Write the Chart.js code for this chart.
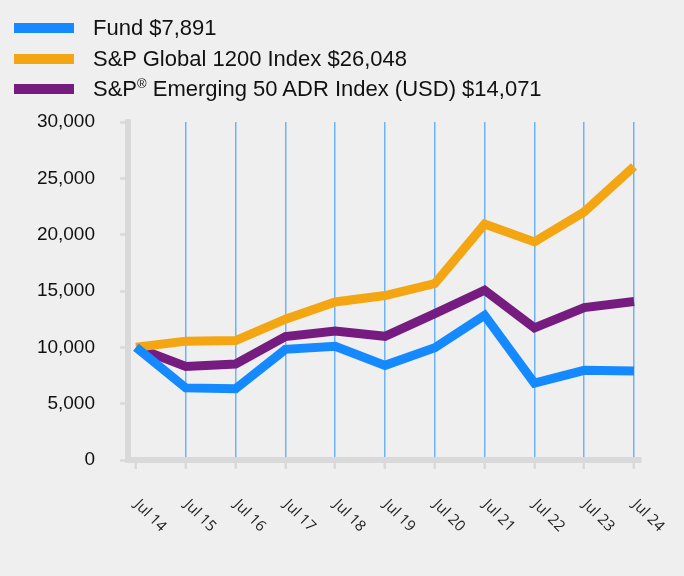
<!DOCTYPE html>
<html>
<head>
<meta charset="utf-8">
<script src="https://cdn.jsdelivr.net/npm/chart.js@4"></script>
<style>
  html, body { margin: 0; padding: 0; background: #efefef; }
  #wrap { position: relative; width: 684px; height: 576px; overflow: hidden; }
  #legend { position: absolute; left: 0; top: 0; font-family: "Liberation Sans", Arial, sans-serif; font-size: 22px; color: #111; }
  .row { position: absolute; left: 0; height: 26px; width: 684px; white-space: nowrap; }
  .swatch { position: absolute; left: 14px; top: 8px; width: 60px; height: 10px; }
  .label { position: absolute; left: 93px; top: 0; line-height: 26px; }
  .label sup { font-size: 13px; vertical-align: 8px; line-height: 0; }
  canvas { position: absolute; left: 0; top: 0; }
</style>
</head>
<body>
<div id="wrap">
  <canvas id="chart" width="684" height="576"></canvas>
  <div id="legend"></div>
</div>
<script>
const categories = ['Jul 14', 'Jul 15', 'Jul 16', 'Jul 17', 'Jul 18', 'Jul 19', 'Jul 20', 'Jul 21', 'Jul 22', 'Jul 23', 'Jul 24'];
const fundValues = [10000, 6400, 6330, 9820, 10100, 8400, 9970, 12850, 6830, 7960, 7891];
const globalValues = [10000, 10550, 10600, 12500, 14030, 14600, 15660, 20940, 19360, 22030, 26048];
const emergingValues = [10000, 8300, 8520, 10950, 11450, 10980, 13000, 15070, 11720, 13530, 14071];
const yTicks = [0, 5000, 10000, 15000, 20000, 25000, 30000];

const seriesNames = ['Fund $7,891', 'S&P Global 1200 Index $26,048', 'S&P<sup>®</sup> Emerging 50 ADR Index (USD) $14,071'];
const seriesColors = ['#1589ff', '#f4a612', '#761c80'];
const rowCenters = [28, 58.5, 89];

// legend as html so the ® can sit raised
const legend = document.getElementById('legend');
seriesNames.forEach((name, i) => {
  const row = document.createElement('div');
  row.className = 'row';
  row.style.top = (rowCenters[i] - 13) + 'px';
  row.innerHTML = '<span class="swatch" style="background:' + seriesColors[i] + '"></span><span class="label">' + name + '</span>';
  legend.appendChild(row);
});

function toPoints(values) {
  return values.map((v, i) => ({ x: i, y: v }));
}

const xLabelsPlugin = {
  id: 'xLabels',
  afterDraw(chart) {
    const ctx = chart.ctx;
    const scale = chart.scales.x;
    ctx.save();
    ctx.font = '15px "Open Sans", sans-serif';
    ctx.fillStyle = '#222';
    ctx.textAlign = 'left';
    ctx.textBaseline = 'top';
    categories.forEach((label, i) => {
      const x = scale.getPixelForValue(i);
      ctx.save();
      ctx.translate(x + 6, 497);
      ctx.rotate(Math.PI / 4);
      ctx.fillText(label, 0, 0);
      ctx.restore();
    });
    ctx.restore();
  }
};

const lineOpts = { borderWidth: 9, pointRadius: 0, tension: 0, borderJoinStyle: 'miter', borderCapStyle: 'butt' };

new Chart(document.getElementById('chart').getContext('2d'), {
  type: 'line',
  data: {
    datasets: [
      Object.assign({ label: 'Fund', data: toPoints(fundValues), borderColor: seriesColors[0] }, lineOpts),
      Object.assign({ label: 'S&P Global 1200 Index', data: toPoints(globalValues), borderColor: seriesColors[1] }, lineOpts),
      Object.assign({ label: 'S&P Emerging 50 ADR Index (USD)', data: toPoints(emergingValues), borderColor: seriesColors[2] }, lineOpts)
    ]
  },
  options: {
    responsive: false,
    animation: false,
    layout: { padding: { top: 122, right: 43, left: 0, bottom: 0 } },
    plugins: { legend: { display: false }, tooltip: { enabled: false } },
    scales: {
      x: {
        type: 'linear',
        min: -0.16,
        max: 10.14,
        afterBuildTicks(scale) {
          scale.ticks = categories.map((c, i) => ({ value: i }));
        },
        afterFit(scale) { scale.height = 116; },
        ticks: { display: false },
        border: { display: true, color: '#d9d9d9', width: 6 },
        grid: {
          color: (c) => c.index === 0 ? 'rgba(0,0,0,0)' : '#6db3f8',
          lineWidth: 1.5,
          drawTicks: true,
          tickLength: 9,
          tickColor: '#d9d9d9',
          tickWidth: 2.5
        }
      },
      y: {
        min: 0,
        max: 30000,
        afterBuildTicks(scale) {
          scale.ticks = yTicks.map(v => ({ value: v }));
        },
        afterFit(scale) { scale.width = 128; },
        border: { display: true, color: '#d9d9d9', width: 6 },
        grid: {
          drawOnChartArea: false,
          drawTicks: true,
          tickLength: 8,
          color: '#d9d9d9',
          tickColor: '#d9d9d9',
          tickWidth: 2.5
        },
        ticks: {
          padding: 25,
          color: '#111',
          font: { family: '"Liberation Sans", Arial, sans-serif', size: 19 },
          callback: (v) => v.toLocaleString('en-US')
        }
      }
    }
  },
  plugins: [xLabelsPlugin]
});
</script>
</body>
</html>
